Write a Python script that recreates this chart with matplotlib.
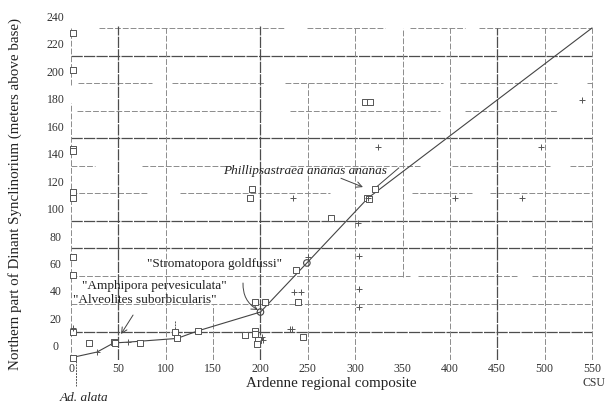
import matplotlib
matplotlib.use("Agg")
import matplotlib.pyplot as plt

plt.rcParams['font.family'] = ['Liberation Serif', 'DejaVu Serif']

# ---------------- data ----------------
X_TICKS = [0, 50, 100, 150, 200, 250, 300, 350, 400, 450, 500, 550]
Y_TICKS = [0, 20, 40, 60, 80, 100, 120, 140, 160, 180, 200, 220, 240]

# line of correlation
CURVE_X = [1, 27.5, 45, 60, 112, 134, 200, 249, 313.5, 550]
CURVE_Y = [-8.4, -4.4, 2.2, 2.8, 5.5, 11, 24.7, 60.4, 107.6, 231.3]

# open squares
SQ_X = [2, 2, 2, 2, 2, 2, 2, 2, 2, 2, 19, 73, 45, 46, 112, 134, 110, 184, 194, 194,
        197, 196, 194, 205, 240, 237.5, 245, 274, 191, 189, 310, 316, 321, 312, 315]
SQ_Y = [228, 201, 143.5, 141.5, 112, 108, 65, 51.6, 10.2, -8.6, 2.2, 2.2, 3, 2, 5.5, 11, 10, 8,
        11, 9, 4.4, 1.5, 32, 32, 32, 55, 6.5, 93, 114, 108, 177.5, 177.5, 114, 108, 107]

# crosses
CR_X = [2, 27.5, 60, 231, 233, 235, 243, 250, 303, 304, 304, 304, 234, 324, 539, 496,
        405, 476, 201.6, 202.7, 313.5]
CR_Y = [13, -4.4, 2.8, 12.4, 12.4, 39, 39, 64.7, 89.5, 65.5, 41.5, 28, 108, 145, 179,
        145, 108, 108, 6.5, 4.4, 107.6]

# circles
CI_X = [200, 249]
CI_Y = [24.7, 60.4]

# ---------------- scanned-grid layout (style) ----------------
DARK = '#4d4d4d'
LIGHT = '#8c8c8c'
H_GRID = [  # (y, [(x0, x1), ...], dark)
    (231.3, [(29.6, 226), (249, 331.5), (358, 416), (431, 550)], False),
    (211.0, [(0, 550)], True),
    (191.2, [(7.4, 85.5), (106.6, 204.8), (226, 392.7), (410.6, 513), (544.7, 550)], False),
    (171.0, [(6.3, 201.6), (231, 389.5), (416, 513)], False),
    (151.3, [(0, 550)], True),
    (131.0, [(0, 25), (75, 168), (231, 368), (402, 505.6), (526.8, 550)], False),
    (111.2, [(0, 81), (115, 273), (360, 423), (442, 550)], False),
    (91.0, [(0, 550)], True),
    (71.1, [(0, 550)], True),
    (50.9, [(0, 358), (366, 471), (487, 550)], False),
    (30.5, [(0, 550)], False),
    (10.2, [(0, 550)], True),
    (-10.2, [(0, 466), (487, 550)], False),
]
V_GRID = [  # (x, [(y0, y1), ...], dark)
    (0, [(190, 231.3), (-10.2, 176.7)], False),
    (50, [(-10.2, 233)], True),
    (100, [(-10.2, 233)], False),
    (150, [(-10.2, 30)], False),
    (200, [(-10.2, 233)], True),
    (250, [(-10.2, 191.3)], False),
    (300, [(-10.2, 233)], False),
    (350, [(50, 231.3)], False),
    (400, [(-10.2, 231.3)], False),
    (450, [(-10.2, 231.3)], True),
    (500, [(-10.2, 231.3)], False),
    (550, [(-10.2, 231.3)], False),
]

fig = plt.figure(figsize=(6.06, 4.05), dpi=100)
ax = fig.add_axes([0.1125, 0.1111, 0.869, 0.856])
ax.set_xlim(-3, 553)
ax.set_ylim(-10.2, 242)
for s in ax.spines.values():
    s.set_visible(False)

for y, segs, dark in H_GRID:
    for x0, x1 in segs:
        ax.plot([x0, x1], [y, y], color=DARK if dark else LIGHT,
                lw=0.9 if dark else 0.7,
                ls=(0, (9, 1)) if dark else (0, (6, 2)), zorder=1)
for x, segs, dark in V_GRID:
    for y0, y1 in segs:
        ax.plot([x, x], [y0, y1], color=DARK if dark else LIGHT,
                lw=0.9 if dark else 0.7,
                ls=(0, (9, 1)) if dark else (0, (6, 2)), zorder=1)

ax.plot(CURVE_X, CURVE_Y, color='#444444', lw=0.8, zorder=3)
ax.scatter(SQ_X, SQ_Y, marker='s', s=15, facecolors='white', edgecolors='#555555',
           linewidths=0.7, zorder=4, clip_on=False)
ax.scatter(CR_X, CR_Y, marker='+', s=18, color='#555555', linewidths=0.7, zorder=5,
           clip_on=False)
ax.scatter(CI_X, CI_Y, marker='o', s=22, facecolors='none', edgecolors='#444444',
           linewidths=0.8, zorder=5)

ax.set_xticks(X_TICKS)
ax.set_xticklabels([str(v) for v in X_TICKS], fontsize=8.5, color='#333333')
ax.set_yticks(Y_TICKS)
ax.set_yticklabels([str(v) for v in Y_TICKS], fontsize=8.5, color='#333333')
ax.tick_params(axis='x', length=0, pad=2)
ax.tick_params(axis='y', length=0, pad=9)
for lbl in ax.get_yticklabels():
    lbl.set_horizontalalignment('center')

fig.text(0.025, 0.52, 'Northern part of Dinant Synclinorium (meters above base)',
         rotation=90, ha='center', va='center', fontsize=10.8, color='#222222')
fig.text(0.546, 0.054, 'Ardenne regional composite', ha='center', va='center',
         fontsize=10.8, color='#222222')
fig.text(0.980, 0.054, 'CSU', ha='center', va='center', fontsize=8.5, color='#333333')

tkw = dict(fontsize=9.5, color='#222222', va='center', ha='left', zorder=6)
ax.text(80.2, 59.6, '"Stromatopora goldfussi"', **tkw)
ax.text(11.6, 43.6, '"Amphipora pervesiculata"', **tkw)
ax.text(2, 33.5, '"Alveolites suborbicularis"', **tkw)
ax.text(160.5, 127.3, 'Phillipsastraea ananas ananas', style='italic', **tkw)
ax.text(-11.6, -37.8, 'Ad. alata', style='italic', clip_on=False, **tkw)

akw = dict(arrowstyle='->', color='#444444', lw=0.7, shrinkA=0, shrinkB=0)
ax.annotate('', xy=(52.8, 8.7), xytext=(65.5, 22.5), arrowprops=akw)
ax.annotate('', xy=(197.4, 26.2), xytext=(181.6, 45.8),
            arrowprops=dict(akw, connectionstyle='arc3,rad=0.3'))
ax.annotate('', xy=(308.2, 115.6), xytext=(285, 122), arrowprops=akw)
ax.plot([346, 318.8], [129.5, 113.5], color='#444444', lw=0.7, zorder=3)
ax.plot([109.8, 109.8], [18.2, 10.2], color='#555555', lw=0.7, ls=(0, (2, 1)), zorder=3)
ax.plot([5.3, 5.3], [-8.7, -29], color='#555555', lw=0.7, ls=(0, (2, 1)), zorder=3,
        clip_on=False)

fig.savefig('out.png', dpi=100, facecolor='white')
